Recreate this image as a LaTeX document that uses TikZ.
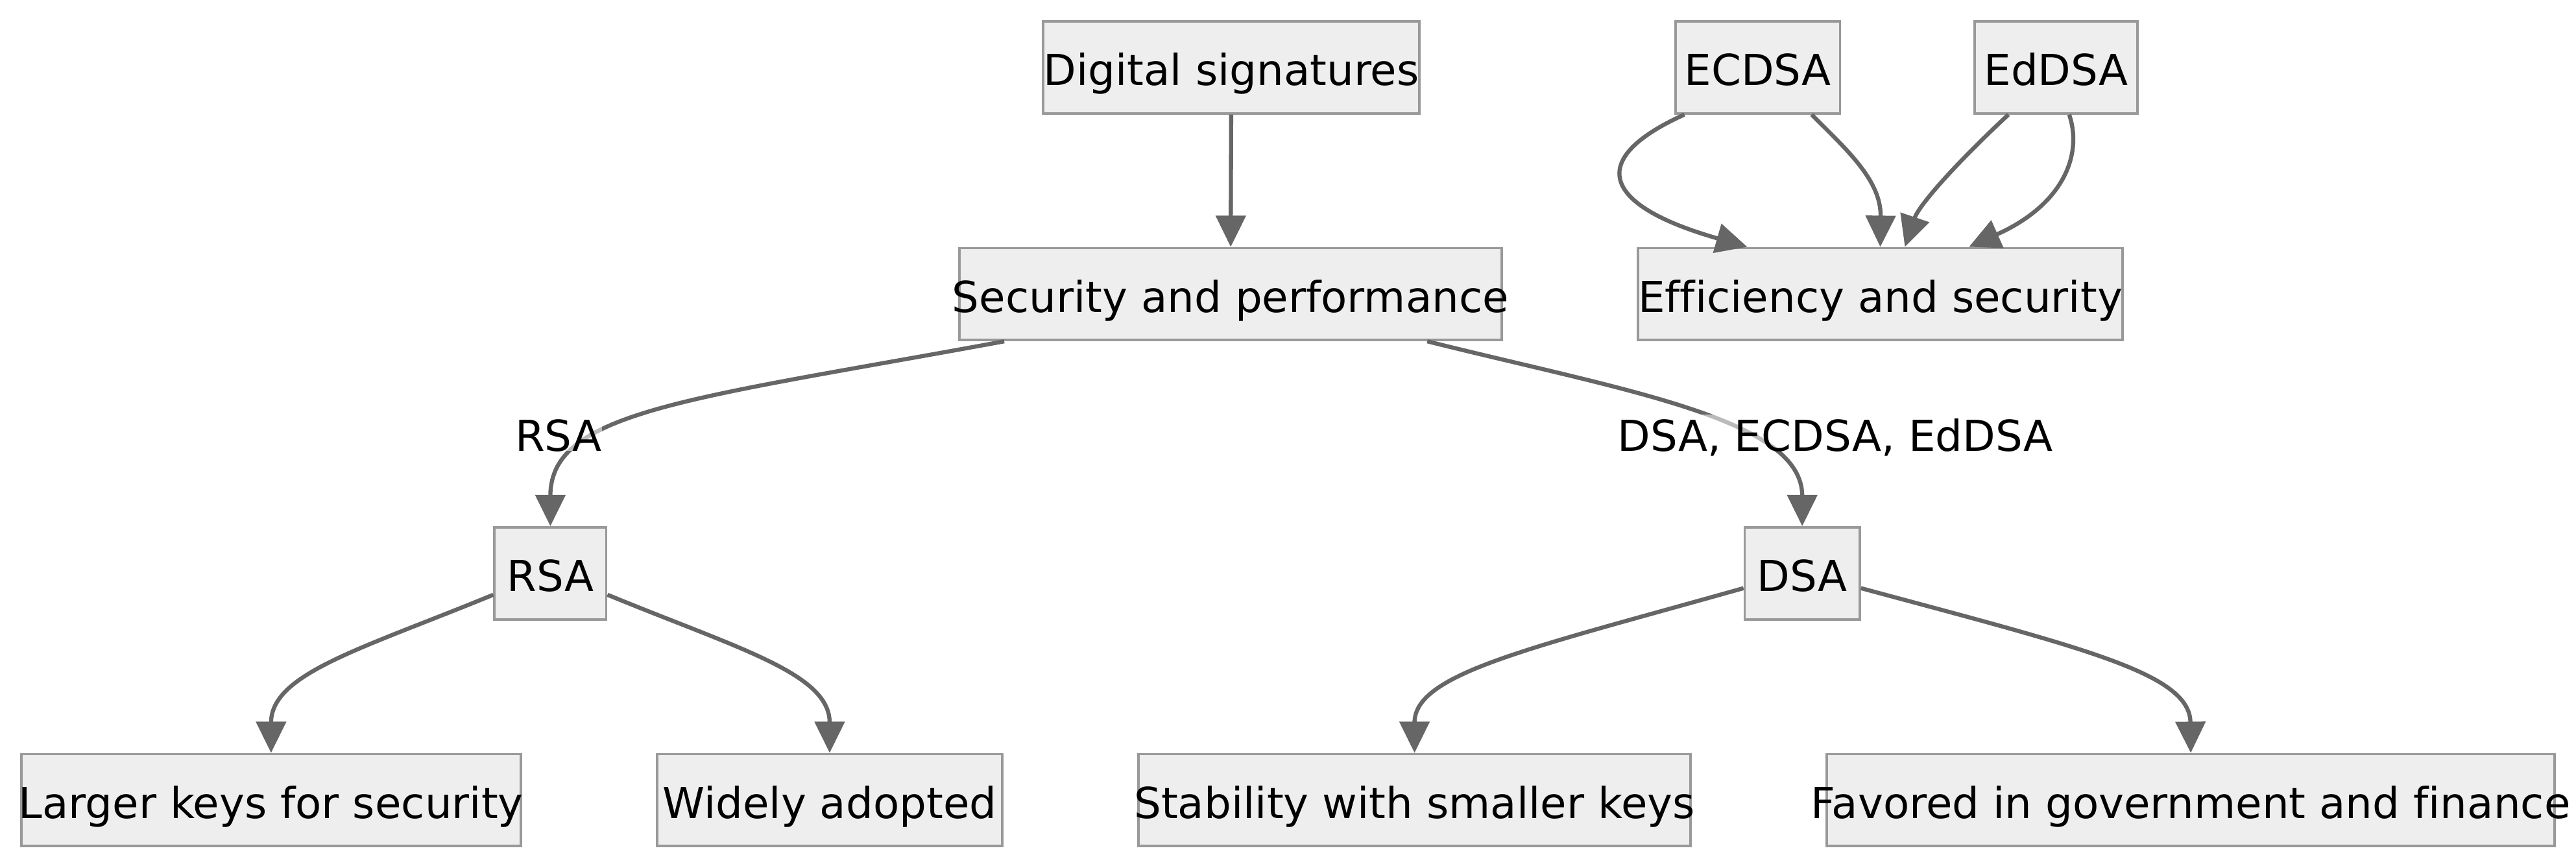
\documentclass[tikz,border=0pt]{standalone}
\usepackage{fontspec}
\setmainfont{DejaVu Sans}[Ligatures=NoCommon]
\usepackage{tikz}
\usetikzlibrary{arrows.meta}
\definecolor{boxfill}{HTML}{EEEEEE}
\definecolor{boxline}{HTML}{999999}
\definecolor{edgeline}{HTML}{666666}
\newcommand{\boxtext}[1]{\makebox[0pt]{#1}}
\begin{document}
\begin{tikzpicture}[x=1pt,y=-1pt]
    \tikzstyle{every node}+=[inner sep=0pt, font=\fontsize{26}{31}\selectfont, text height=22pt, text depth=0pt]
    \tikzstyle{box}=[draw=boxline, fill=boxfill, line width=1.5pt, minimum height=56pt]
    \tikzstyle{edge}=[draw=edgeline, line width=2.5pt, -{Triangle[length=19pt,width=18pt]}]
    \tikzstyle{elabel}=[fill=white, fill opacity=0.55, text opacity=1]
    \useasboundingbox (0,0) rectangle (1568,528);
    \node [box, minimum width=229pt] (sig) at (749.5,41) {\boxtext{Digital signatures}};
    \node [box, minimum width=330pt] (perf) at (749,179) {\boxtext{Security and performance}};
    \node [box, minimum width=100pt] (ecdsa) at (1070,41) {\boxtext{ECDSA}};
    \node [box, minimum width=99pt] (eddsa) at (1251.5,41) {\boxtext{EdDSA}};
    \node [box, minimum width=295pt] (eff) at (1144.5,179) {\boxtext{Efficiency and security}};
    \node [box, minimum width=68pt] (rsa) at (335,349) {\boxtext{RSA}};
    \node [box, minimum width=70pt] (dsa) at (1097,349) {\boxtext{DSA}};
    \node [box, minimum width=304pt] (larger) at (165,487) {\boxtext{Larger keys for security}};
    \node [box, minimum width=210pt] (widely) at (505,487) {\boxtext{Widely adopted}};
    \node [box, minimum width=336pt] (stab) at (861,487) {\boxtext{Stability with smaller keys}};
    \node [box, minimum width=443pt] (fav) at (1333.5,487) {\boxtext{Favored in government and finance}};
    \draw [edge] (sig) -- (perf);
    \draw [edge] ([xshift=28pt]perf.south west) .. controls (420,243) and (335,250) .. (rsa.north);
    \draw [edge] ([xshift=-46pt]perf.south east) .. controls (990,238) and (1097,255) .. (dsa.north);
    \node [elabel] (lrsa) at (340,263.5) {RSA};
    \node [elabel] (ldsa) at (1117,263.5) {DSA, ECDSA, EdDSA};
    \draw [edge] ([yshift=-13pt]rsa.west) .. controls (220,395) and (165,410) .. (larger.north);
    \draw [edge] ([yshift=-13pt]rsa.east) .. controls (450,395) and (505,410) .. (widely.north);
    \draw [edge] ([yshift=-9pt]dsa.west) .. controls (930,395) and (861,410) .. (stab.north);
    \draw [edge] ([yshift=-9pt]dsa.east) .. controls (1270,395) and (1333,410) .. (fav.north);
    \draw [edge] ([xshift=6pt]ecdsa.south west) .. controls (965,97) and (975,125) .. ([xshift=-81pt]eff.north);
    \draw [edge] ([xshift=-18pt]ecdsa.south east) .. controls (1125,92) and (1145,110) .. (eff.north);
    \draw [edge] ([xshift=-29pt]eddsa.south) .. controls (1190,100) and (1168,125) .. ([xshift=15pt]eff.north);
    \draw [edge] ([xshift=8pt]eddsa.south) .. controls (1268,95) and (1255,125) .. ([xshift=54pt]eff.north);
\end{tikzpicture}
\end{document}
